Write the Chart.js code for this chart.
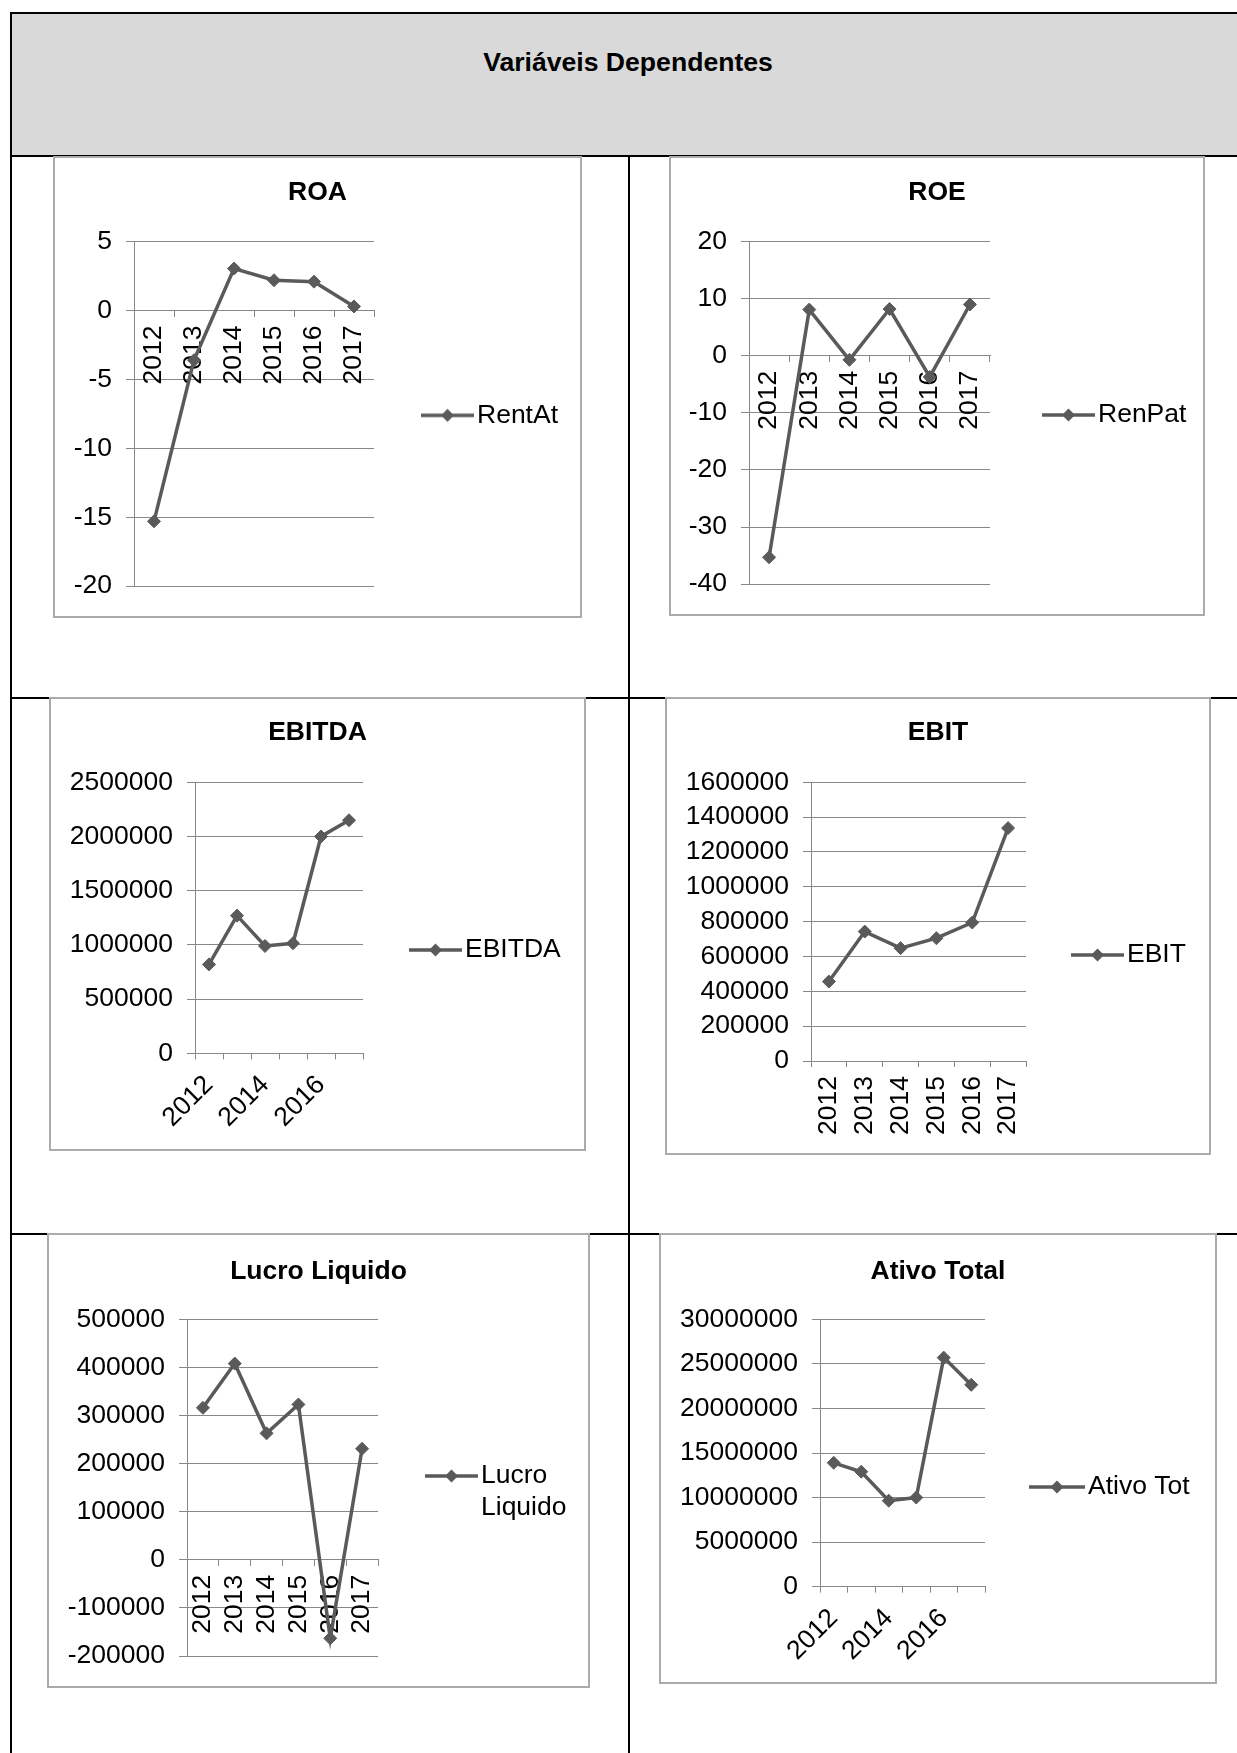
<!DOCTYPE html>
<html lang="pt">
<head>
<meta charset="utf-8">
<title>Variáveis Dependentes</title>
<script src="https://cdn.jsdelivr.net/npm/chart.js@4.4.1/dist/chart.umd.min.js"></script>
<style>
  html, body { margin: 0; padding: 0; background: #fff; }
  body { width: 1237px; height: 1753px; position: relative; overflow: hidden;
         font-family: "Liberation Sans", Arial, sans-serif; }
  .rule { position: absolute; background: #000; }
  .head { position: absolute; left: 12px; top: 14px; width: 1225px; height: 141px; background: #d9d9d9; }
  .caption { position: absolute; left: 328px; width: 600px; top: 47px; line-height: 30px;
             font-size: 26.6px; font-weight: bold; text-align: center; color: #000; }
  .frame { position: absolute; box-sizing: border-box; border: 2px solid #ababab; background: #fff; }
  .frame canvas { position: absolute; left: 0; top: 0; }
</style>
</head>
<body>
<div class="head"></div>
<div class="caption">Variáveis Dependentes</div>
<!-- table rules -->
<div class="rule" style="left:10px;top:12px;width:1227px;height:2px"></div>
<div class="rule" style="left:10px;top:12px;width:2px;height:1741px"></div>
<div class="rule" style="left:10px;top:155px;width:1227px;height:2px"></div>
<div class="rule" style="left:628px;top:155px;width:2px;height:1598px"></div>
<div class="rule" style="left:10px;top:697px;width:1227px;height:2px"></div>
<div class="rule" style="left:10px;top:1233px;width:1227px;height:2px"></div>

<script>
// ---- data ----
const years = ['2012', '2013', '2014', '2015', '2016', '2017'];
const rentAt = [-15.3, -3.6, 3.05, 2.2, 2.1, 0.3];
const renPat = [-35.3, 8.1, -0.7, 8.2, -3.7, 9.0];
const ebitda = [820000, 1270000, 990000, 1015000, 2000000, 2150000];
const ebit = [456000, 743000, 648000, 705000, 795000, 1337000];
const lucroLiquido = [316000, 408000, 263000, 323000, -163000, 231000];
const ativoTotal = [13900000, 12900000, 9650000, 10000000, 25700000, 22650000];

// value axis ranges: [min, max, step]
const roaAxis = [-20, 5, 5];
const roeAxis = [-40, 20, 10];
const ebitdaAxis = [0, 2500000, 500000];
const ebitAxis = [0, 1600000, 200000];
const lucroAxis = [-200000, 500000, 100000];
const ativoAxis = [0, 30000000, 5000000];

// ---- styling ----
const F = 26.5;               // font size used for every chart text
const LH = F * 1.2;           // line height
const INK = '#5a5a5a';        // series colour
const GRID = '#888888';       // gridlines and axis lines
const FAMILY = '"Liberation Sans", Arial, sans-serif';

Chart.defaults.font.family = FAMILY;
Chart.defaults.font.size = F;
Chart.defaults.color = '#000';

const measure = document.createElement('canvas').getContext('2d');
measure.font = F + 'px ' + FAMILY;

// legend key: a short line with a diamond marker on it
function legendKey(len) {
  const c = document.createElement('canvas');
  c.width = Math.round(len);
  c.height = 16;
  const g = c.getContext('2d');
  g.strokeStyle = INK;
  g.lineWidth = 3.5;
  g.beginPath(); g.moveTo(0, 8); g.lineTo(c.width, 8); g.stroke();
  const m = c.width / 2;
  g.fillStyle = INK;
  g.beginPath(); g.moveTo(m, 1.5); g.lineTo(m + 6.5, 8); g.lineTo(m, 14.5); g.lineTo(m - 6.5, 8);
  g.closePath(); g.fill();
  return c;
}

// page geometry of each panel: frame box, plot box, title centre, legend key
const panels = [
  { title: 'ROA', label: 'RentAt', values: rentAt, axis: roaAxis, xAt: 'zero', rot: 90,
    box: [54, 157, 581, 617], plot: [134, 241.7, 374, 588], titleY: 193,
    legend: { y: 415, lineStart: 421, textX: 477 } },
  { title: 'ROE', label: 'RenPat', values: renPat, axis: roeAxis, xAt: 'zero', rot: 90,
    box: [670, 157, 1204, 615], plot: [749, 241.7, 990, 586], titleY: 193,
    legend: { y: 415, lineStart: 1042, textX: 1098 } },
  { title: 'EBITDA', label: 'EBITDA', values: ebitda, axis: ebitdaAxis, xAt: 'bottom', rot: 45,
    box: [50, 698, 585, 1150], plot: [195, 782.3, 363, 1053.3], titleY: 733,
    legend: { y: 950, lineStart: 409, textX: 465 } },
  { title: 'EBIT', label: 'EBIT', values: ebit, axis: ebitAxis, xAt: 'bottom', rot: 90,
    box: [666, 698, 1210, 1154], plot: [811, 782.3, 1026, 1061], titleY: 733,
    legend: { y: 955, lineStart: 1071, textX: 1127 } },
  { title: 'Lucro Liquido', label: 'Lucro Liquido', lines: ['Lucro', 'Liquido'], values: lucroLiquido,
    axis: lucroAxis, xAt: 'zero', rot: 90,
    box: [48, 1234, 589, 1687], plot: [187, 1319.3, 378, 1657.7], titleY: 1272,
    legend: { y: 1476, lineStart: 425, textX: 481 } },
  { title: 'Ativo Total', label: 'Ativo Tot', values: ativoTotal, axis: ativoAxis, xAt: 'bottom', rot: 45,
    box: [660, 1234, 1216, 1683], plot: [820, 1319.3, 985, 1586.7], titleY: 1272,
    legend: { y: 1487, lineStart: 1029, textX: 1088 } }
];

function buildPanel(p) {
  const [L, T, R, B] = p.box;
  const W = R - L - 2, H = B - T - 2, ox = L + 1, oy = T + 1;

  const frame = document.createElement('div');
  frame.className = 'frame';
  frame.style.left = (L - 1) + 'px';
  frame.style.top = (T - 1) + 'px';
  frame.style.width = (R - L + 2) + 'px';
  frame.style.height = (B - T + 2) + 'px';
  const cv = document.createElement('canvas');
  cv.width = W; cv.height = H;
  cv.style.width = W + 'px'; cv.style.height = H + 'px';
  frame.appendChild(cv);
  document.body.appendChild(frame);

  const plotL = p.plot[0] - ox, plotT = p.plot[1] - oy, plotR = p.plot[2] - ox, plotB = p.plot[3] - oy;
  const lines = p.lines || [p.label];
  const itemH = lines.length > 1 ? LH * lines.length : F;

  // vertical padding: the legend is centred between padding.top and padding.bottom
  const keyY = p.legend.y - oy;
  const D = 2 * (keyY - F / 2) + itemH - H;
  let pT, pB;
  if (p.xAt === 'zero') { pB = H - plotB; pT = D + pB; }
  else if (D >= 0) { pT = D; pB = 0; }
  else { pT = 0; pB = -D; }
  let legendSpacer = 0;
  if (pT > plotT) { legendSpacer = pT - plotT; pT = plotT; }
  if (pT < 0) pT = 0;

  // title sits inside the band above the plot
  const tpT = (p.titleY - oy) - pT - LH / 2;
  const tpB = plotT - pT - LH - tpT;

  // horizontal padding from the legend text position
  const textX = p.legend.textX - ox;
  const textW = Math.max(...lines.map(s => measure.measureText(s).width));
  const pR = W - textX - textW - 10;
  const pL = pR;
  const yW = plotL - pL;
  const xH = H - pB - plotB;

  const ls = p.legend.lineStart - ox;
  const le = textX - 3;
  const c = (ls + le) / 2;
  const boxW = 2 * (textX - F / 2 - c);
  const lpad = c - boxW / 2 - plotR;
  const key = legendKey(le - ls);

  const labelText = lines.length > 1 ? lines : lines[0];
  const skipOdd = p.rot === 45;

  new Chart(cv, {
    type: 'line',
    data: {
      labels: years,
      datasets: [{
        label: p.label,
        data: p.values,
        borderColor: INK,
        backgroundColor: INK,
        borderWidth: 3.5,
        tension: 0,
        pointStyle: 'rectRot',
        pointRadius: 6.5,
        pointBorderWidth: 1,
        pointBackgroundColor: INK,
        pointBorderColor: INK,
        clip: false
      }]
    },
    options: {
      responsive: false,
      maintainAspectRatio: false,
      devicePixelRatio: 1,
      animation: false,
      events: [],
      layout: { padding: { top: pT, bottom: pB, left: pL, right: pR } },
      plugins: {
        tooltip: { enabled: false },
        title: {
          display: true, text: p.title, color: '#000', align: 'center',
          font: { size: F, weight: 'bold' },
          padding: { top: tpT, bottom: tpB }
        },
        legend: {
          display: true, position: 'right', align: 'center', fullSize: true, maxWidth: 2000,
          title: { display: legendSpacer > 0, text: '', font: { size: 1, lineHeight: 1 },
                   padding: { top: Math.max(legendSpacer - 1, 0), bottom: 0 } },
          labels: {
            usePointStyle: true,
            pointStyle: key,
            pointStyleWidth: boxW,
            padding: lpad,
            color: '#000',
            font: { size: F },
            generateLabels(chart) {
              const items = Chart.defaults.plugins.legend.labels.generateLabels(chart);
              items.forEach(it => { it.text = labelText; it.pointStyle = key; });
              return items;
            }
          }
        }
      },
      scales: {
        x: {
          type: 'category',
          offset: true,
          position: p.xAt === 'zero' ? { y: 0 } : 'bottom',
          grid: { display: true, offset: true, drawOnChartArea: false, drawTicks: true, tickLength: 6, color: GRID },
          border: { display: true, color: GRID, width: 1 },
          ticks: {
            autoSkip: false,
            minRotation: p.rot, maxRotation: p.rot,
            padding: p.rot === 45 ? 10 : 9,
            color: '#000',
            font: { size: F },
            callback: (v, i) => (skipOdd && i % 2 === 1) ? '' : years[i]
          },
          afterFit: s => { if (p.xAt !== 'zero') s.height = xH; }
        },
        y: {
          min: p.axis[0], max: p.axis[1],
          grid: { color: GRID, tickLength: 8, drawTicks: true },
          border: { display: true, color: GRID, width: 1 },
          ticks: {
            stepSize: p.axis[2],
            padding: 14,
            color: '#000',
            font: { size: F },
            callback: v => String(v)
          },
          afterFit: s => { s.width = yW; }
        }
      }
    }
  });
}

panels.forEach(buildPanel);
</script>
</body>
</html>
